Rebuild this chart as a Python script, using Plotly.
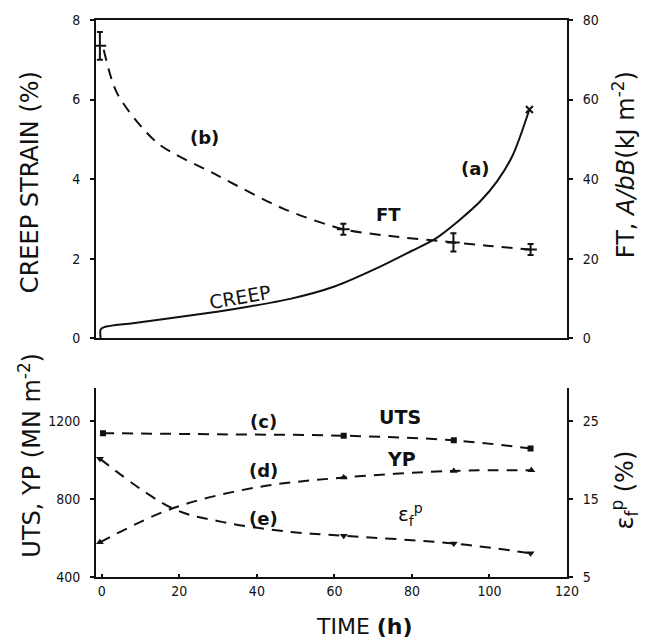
import plotly.graph_objects as go

# ---- data ----
creep_t = [-0.3, -0.3, 0.6, 8, 22.7, 35, 48.6, 60, 71.8, 80, 86, 92, 97.7, 102, 106, 110.3]
creep_v = [0.0, 0.22, 0.28, 0.38, 0.57, 0.75, 0.99, 1.3, 1.8, 2.2, 2.5, 2.95, 3.45, 3.95, 4.6, 5.75]

ft_curve_t = [0.5, 4, 14.2, 29.7, 46.8, 62.3, 74.4, 90.7, 100, 110.6]
ft_curve_v = [72.5, 61.5, 49.2, 41.0, 32.6, 27.4, 25.7, 24.1, 23.2, 22.3]
ft_pts_t = [-0.5, 62.3, 90.7, 110.6]
ft_pts_v = [73.5, 27.4, 24.1, 22.3]
ft_err = [3.5, 1.4, 2.3, 1.4]

uts_t = [0.3, 30, 62.4, 90.8, 110.6]
uts_v = [1139, 1133, 1126, 1102, 1060]
uts_mt = [0.3, 62.4, 90.8, 110.6]
uts_mv = [1139, 1126, 1102, 1060]

yp_t = [-0.5, 18.3, 39.8, 62.4, 90.8, 110.8]
yp_v = [578, 753, 860, 911, 945, 948]
yp_mt = [-0.5, 62.4, 90.8, 110.8]
yp_mv = [578, 911, 945, 948]

ef_t = [-0.5, 18.3, 31.3, 48.6, 62.4, 90.8, 110.6]
ef_v = [20.2, 13.8, 12.05, 10.8, 10.3, 9.3, 8.05]
ef_mt = [-0.5, 62.4, 90.8, 110.6]
ef_mv = [20.2, 10.3, 9.3, 8.05]

x_ticks = [0, 20, 40, 60, 80, 100, 120]

FONT = "DejaVu Sans Condensed, Liberation Sans Narrow, Arial"
TFONT = "DejaVu Sans, Arial"
BLACK = "#111"
DASH = "11px,8px"

fig = go.Figure()

# top panel
fig.add_trace(go.Scatter(x=creep_t, y=creep_v, mode="lines", line=dict(color=BLACK, width=2, shape="spline", smoothing=0.8),
                         xaxis="x", yaxis="y"))
fig.add_trace(go.Scatter(x=[creep_t[-1]], y=[creep_v[-1]], mode="markers",
                         marker=dict(symbol="x-thin", size=7, line=dict(color=BLACK, width=2)), xaxis="x", yaxis="y"))
fig.add_trace(go.Scatter(x=ft_curve_t, y=ft_curve_v, mode="lines",
                         line=dict(color=BLACK, width=2, dash=DASH, shape="spline", smoothing=0.8),
                         xaxis="x", yaxis="y2"))
fig.add_trace(go.Scatter(x=ft_pts_t, y=ft_pts_v, mode="markers",
                         marker=dict(symbol="line-ew", size=9, line=dict(color=BLACK, width=2)),
                         error_y=dict(type="data", array=ft_err, color=BLACK, thickness=2, width=3),
                         xaxis="x", yaxis="y2"))

# bottom panel
fig.add_trace(go.Scatter(x=uts_t, y=uts_v, mode="lines",
                         line=dict(color=BLACK, width=2, dash=DASH, shape="spline"), xaxis="x2", yaxis="y3"))
fig.add_trace(go.Scatter(x=uts_mt, y=uts_mv, mode="markers",
                         marker=dict(symbol="square", size=6, color=BLACK), xaxis="x2", yaxis="y3"))
fig.add_trace(go.Scatter(x=yp_t, y=yp_v, mode="lines",
                         line=dict(color=BLACK, width=2, dash=DASH, shape="spline"), xaxis="x2", yaxis="y3"))
fig.add_trace(go.Scatter(x=yp_mt, y=yp_mv, mode="markers",
                         marker=dict(symbol="triangle-up", size=7, color=BLACK), xaxis="x2", yaxis="y3"))
fig.add_trace(go.Scatter(x=ef_t, y=ef_v, mode="lines",
                         line=dict(color=BLACK, width=2, dash=DASH, shape="spline"), xaxis="x2", yaxis="y4"))
fig.add_trace(go.Scatter(x=ef_mt, y=ef_mv, mode="markers",
                         marker=dict(symbol="triangle-down", size=7, color=BLACK), xaxis="x2", yaxis="y4"))

tickfont = dict(family=FONT, size=14, color=BLACK)
common = dict(showgrid=False, zeroline=False, showline=True, linecolor=BLACK, linewidth=2,
              tickwidth=1.5, tickcolor=BLACK, tickfont=tickfont)
yax = dict(ticks="outside", ticklen=4, ticklabelstandoff=7, **common)

fig.update_layout(
    width=647, height=641,
    margin=dict(l=96, r=80, t=17, b=64),
    paper_bgcolor="white", plot_bgcolor="white",
    showlegend=False,
    font=dict(family=FONT, color=BLACK),
    xaxis=dict(domain=[0, 1], range=[-1.5, 120], anchor="y", mirror=True, showticklabels=False,
               tickvals=x_ticks, ticks="", **common),
    yaxis=dict(domain=[0.4286, 1], range=[0, 8], tickvals=[0, 2, 4, 6, 8], anchor="x", **yax),
    yaxis2=dict(domain=[0.4286, 1], range=[0, 80], tickvals=[0, 20, 40, 60, 80], overlaying="y",
                side="right", anchor="x", **yax),
    xaxis2=dict(domain=[0, 1], range=[-1.5, 120], anchor="y3", tickvals=x_ticks,
                ticks="inside", ticklen=3, **common),
    yaxis3=dict(domain=[0, 0.339], range=[400, 1370], tickvals=[400, 800, 1200], anchor="x2", **yax),
    yaxis4=dict(domain=[0, 0.339], range=[5, 29.25], tickvals=[5, 15, 25], overlaying="y3",
                side="right", anchor="x2", **yax),
)

def ann(text, x, y, xref="paper", yref="paper", size=20, angle=0, bold=False, family=TFONT, **kw):
    fig.add_annotation(text=f"<b>{text}</b>" if bold else text, x=x, y=y, xref=xref, yref=yref,
                       showarrow=False, textangle=angle,
                       font=dict(family=family, size=size, color=BLACK), **kw)

# axis titles (pixel -> paper)
def px(xp, yp):
    return ((xp - 96) / (567 - 96), (577 - yp) / 560)

x0, y0 = px(30, 180)
ann("CREEP STRAIN (%)", x0, y0, angle=-90, size=24, xanchor="center", yanchor="middle")
x0, y0 = px(624, 163)
ann("FT, <i>A/bB</i>(kJ m<sup>-2</sup>)", x0, y0, angle=-90, size=24, xanchor="center", yanchor="middle")
x0, y0 = px(30, 455)
ann("UTS, YP (MN m<sup>-2</sup>)", x0, y0, angle=-90, size=24, xanchor="center", yanchor="middle")
x0, y0 = px(624, 490)
ann("ε<sub>f</sub><sup>p</sup> (%)", x0, y0, angle=-90, size=24, xanchor="center", yanchor="middle")
x0, y0 = px(364, 627)
ann("TIME <b>(h)</b>", x0, y0, size=22, xanchor="center", yanchor="middle")

# in-plot labels
ann("(b)", 26.6, 5.05, xref="x", yref="y", size=18, bold=True)
ann("(a)", 96.4, 4.26, xref="x", yref="y", size=18, bold=True)
ann("FT", 74, 3.1, xref="x", yref="y", size=18, bold=True)
ann("CREEP", 35.7, 1.05, xref="x", yref="y", size=19, angle=-10)
ann("(c)", 41.7, 1200, xref="x2", yref="y3", size=18, bold=True)
ann("(d)", 41.7, 945, xref="x2", yref="y3", size=18, bold=True)
ann("(e)", 41.7, 700, xref="x2", yref="y3", size=18, bold=True)
ann("UTS", 77, 1224, xref="x2", yref="y3", size=19, bold=True)
ann("YP", 77.4, 1004, xref="x2", yref="y3", size=19, bold=True)
ann("ε<sub>f</sub><sup>p</sup>", 79.6, 720, xref="x2", yref="y3", size=20)

fig.write_html("out.html", config={"displayModeBar": False},
               post_script="document.body.style.margin='0';document.body.style.overflow='hidden';")
